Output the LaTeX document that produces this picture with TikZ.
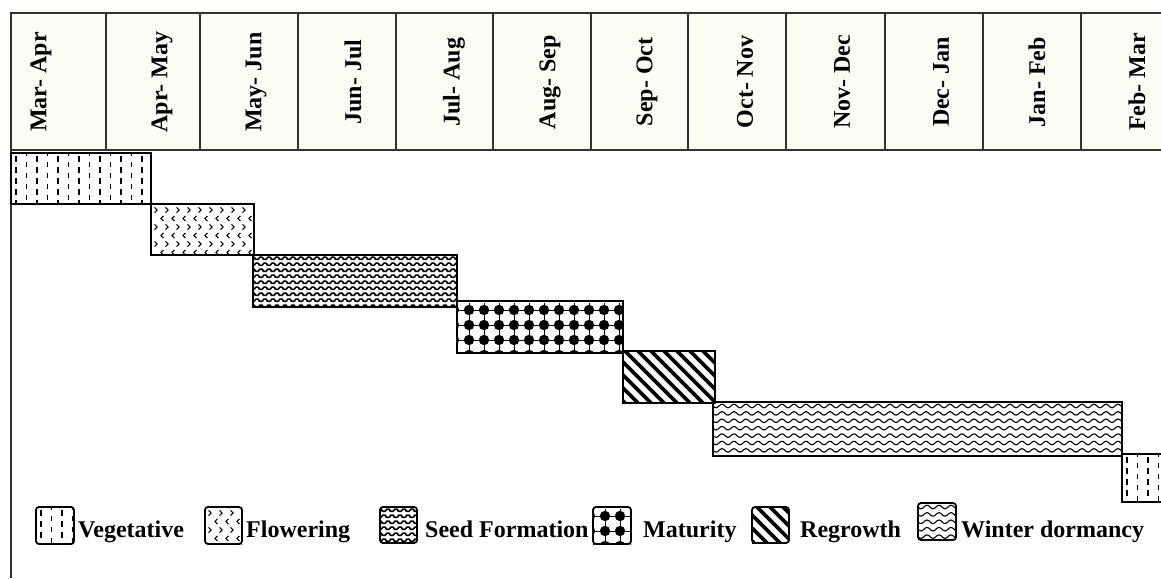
\documentclass[tikz,border=0pt]{standalone}
\usepackage{fontspec}
\setmainfont{Liberation Serif}
\definecolor{cream}{RGB}{252,252,244}
\definecolor{framec}{RGB}{50,50,50}
\tikzset{
  hdrline/.style={draw=framec, line width=2pt},
  monthlabel/.style={rotate=90, font=\fontsize{24}{24}\selectfont\bfseries, inner sep=0pt},
  legtext/.style={anchor=base west, font=\fontsize{24}{24}\selectfont\bfseries, inner sep=0pt},
  barframe/.style={draw=black, line width=1.5pt},
  legframe/.style={draw=black, line width=1.8pt, rounded corners=3pt}
}
% pattern macros: x1 y1 x2 y2 (pixel coordinates, y downwards)
\newcommand\PVeg[4]{%
 \begin{scope}
 \clip (#1,#2) rectangle (#3,#4);
 \pgfmathtruncatemacro\nc{(#3-#1)/10.5+1}
 \pgfmathtruncatemacro\nr{(#4-#2)/11+1}
 \foreach \i in {0,...,\nc}{\foreach \j in {-1,...,\nr}{
   \draw[line width=1.3pt] ({#1+5+10.5*\i},{#2+3+11*\j+5.5*mod(\i,2)}) -- ++(0,5.5);}}
 \end{scope}}
\newcommand\PFlow[4]{%
 \begin{scope}
 \clip (#1,#2) rectangle (#3,#4);
 \pgfmathtruncatemacro\nc{(#3-#1)/11+1}
 \pgfmathtruncatemacro\nr{(#4-#2)/8.5+1}
 \foreach \i in {0,...,\nc}{\foreach \j in {0,...,\nr}{
   \pgfmathsetmacro\xx{#1+6+11*\i+4*mod(\j,2)}
   \pgfmathsetmacro\yy{#2+6+8.5*\j}
   \ifodd\j
     \draw[line width=1.1pt] ({\xx+2.4},{\yy-2.6}) -- (\xx,\yy) -- ({\xx+2.4},{\yy+2.6});
   \else
     \draw[line width=1.1pt] ({\xx-2.4},{\yy-2.6}) -- (\xx,\yy) -- ({\xx-2.4},{\yy+2.6});
   \fi
 }}
 \end{scope}}
\newcommand\PSeed[4]{%
 \begin{scope}
 \clip (#1,#2) rectangle (#3,#4);
 \pgfmathtruncatemacro\nc{(#3-#1)/8+2}
 \pgfmathtruncatemacro\nr{(#4-#2)/6+1}
 \foreach \j in {0,...,\nr}{
  \draw[line width=1.6pt, rounded corners=1.5pt] ({#1-8+4*mod(\j,2)},{#2+1+6*\j})
     \foreach \k in {0,...,\nc}{ -- ++(4,4.5) -- ++(4,-4.5)};
 }
 \foreach \i in {0,...,\nc}{\foreach \j in {0,...,\nr}{
   \fill ({#1+2+8*\i+4*mod(\j,2)},{#2+4+6*\j}) circle[radius=0.9pt];}}
 \end{scope}}
\newcommand\PMat[4]{%
 \begin{scope}
 \clip (#1,#2) rectangle (#3,#4);
 \pgfmathtruncatemacro\nc{(#3-#1)/15+1}
 \pgfmathtruncatemacro\nr{(#4-#2)/15}
 \foreach \i in {-1,...,\nc}{\foreach \j in {0,...,\nr}{
   \fill ({#1+12+15*\i},{#2+9+15*\j}) circle[radius=5.2pt];
   \draw[line width=0.7pt] ({#1+12+15*\i},{#2+9+15*\j}) ++(-7.5,0) -- ++(15,0) ++(-7.5,-7.5) -- ++(0,15);
 }}
 \end{scope}}
\newcommand\PReg[4]{%
 \begin{scope}
 \clip (#1,#2) rectangle (#3,#4);
 \pgfmathtruncatemacro\nc{((#3-#1)+(#4-#2))/13+1}
 \foreach \k in {0,...,\nc}{
   \draw[line width=3.8pt] ({#1-(#4-#2)+13*\k},{#2-2}) -- ++({#4-#2+4},{#4-#2+4});}
 \end{scope}}
\newcommand\PWin[4]{%
 \begin{scope}
 \clip (#1,#2) rectangle (#3,#4);
 \pgfmathtruncatemacro\nc{(#3-#1)/12+2}
 \pgfmathtruncatemacro\nr{(#4-#2)/7.4+1}
 \foreach \j in {0,...,\nr}{
  \draw[line width=1.1pt, rounded corners=2.2pt] ({#1-6},{#2+4+7.4*\j})
    \foreach \k in {0,...,\nc}{ -- ++(3,-2.6) -- ++(3,2.6) -- ++(3,2.6) -- ++(3,-2.6)};
 }
 \end{scope}}
\begin{document}
\begin{tikzpicture}[x=1pt, y=-1pt]
\useasboundingbox (0,0) rectangle (1161,578);
\fill[white] (0,0) rectangle (1161,578);
% header
\fill[cream] (11,13) rectangle (1161,150);
\foreach \xv in {106,200,298,396,493,591,688,786,885,983,1081}{
  \draw[hdrline] (\xv,13) -- (\xv,150);}
\draw[hdrline, line width=2.6pt] (10,13) -- (1161,13);
\draw[hdrline] (11,150) -- (1161,150);
\draw[hdrline] (11,12) -- (11,578);
\node[monthlabel] (m1) at (41,82) {Mar- Apr};
\node[monthlabel] (m2) at (162,82) {Apr- May};
\node[monthlabel] (m3) at (256,82) {May- Jun};
\node[monthlabel] (m4) at (353,82) {Jun- Jul};
\node[monthlabel] (m5) at (454,82) {Jul- Aug};
\node[monthlabel] (m6) at (550,82) {Aug- Sep};
\node[monthlabel] (m7) at (647,82) {Sep- Oct};
\node[monthlabel] (m8) at (745,82) {Oct- Nov};
\node[monthlabel] (m9) at (842,82) {Nov- Dec};
\node[monthlabel] (m10) at (941,82) {Dec- Jan};
\node[monthlabel] (m11) at (1037,82) {Jan- Feb};
\node[monthlabel] (m12) at (1137,82) {Feb- Mar};
% bars
\PVeg{11}{153}{151}{204} \draw[barframe] (11,153) rectangle (151,204);
\PFlow{151}{204}{254}{255} \draw[barframe] (151,204) rectangle (254,255);
\PSeed{253}{255}{457}{307} \draw[barframe] (253,255) rectangle (457,307);
\PMat{457}{301}{623}{353} \draw[barframe] (457,301) rectangle (623,353);
\PReg{623}{351}{715}{403} \draw[barframe] (623,351) rectangle (715,403);
\PWin{713}{402}{1122}{456} \draw[barframe] (713,402) rectangle (1122,456);
\PVeg{1122}{454}{1170}{502} \draw[barframe] (1122,454) rectangle (1170,502);
% legend
\PVeg{36}{507}{74}{544} \draw[legframe] (36,507) rectangle (74,544);
\node[legtext] (l1) at (78,537) {Vegetative};
\PFlow{205}{507}{242}{544} \draw[legframe] (205,507) rectangle (242,544);
\node[legtext] (l2) at (246,537) {Flowering};
\PSeed{380}{507}{417}{543} \draw[legframe] (380,507) rectangle (417,543);
\node[legtext] (l3) at (425,537) {Seed Formation};
\PMat{593}{507}{631}{544} \draw[legframe] (593,507) rectangle (631,544);
\node[legtext] (l4) at (643,537) {Maturity};
\PReg{752}{507}{789}{543} \draw[legframe] (752,507) rectangle (789,543);
\node[legtext] (l5) at (800,537) {Regrowth};
\PWin{918}{503}{956}{540} \draw[legframe] (918,503) rectangle (956,540);
\node[legtext] (l6) at (961,537) {Winter dormancy};
\end{tikzpicture}
\end{document}
